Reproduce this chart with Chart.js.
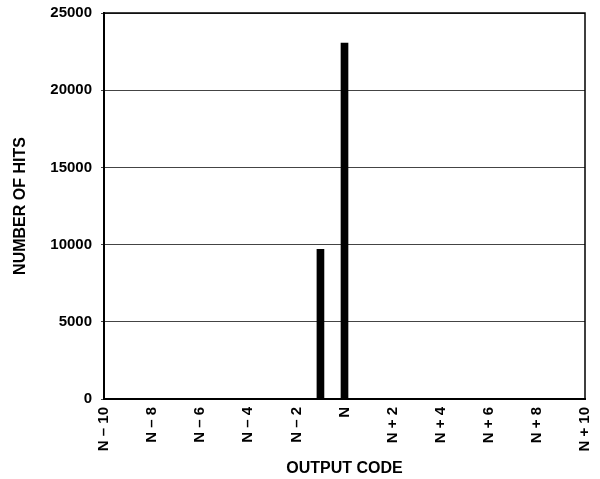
<!DOCTYPE html>
<html><head><meta charset="utf-8">
<script src="https://cdn.jsdelivr.net/npm/chart.js@4/dist/chart.umd.min.js"></script>
<style>html,body{margin:0;padding:0;background:#fff}#wrap{width:600px;height:479px}</style>
</head><body><div id="wrap"><canvas id="c" width="600" height="479"></canvas></div>
<script>
const categories = ['N – 10','N – 9','N – 8','N – 7','N – 6','N – 5','N – 4','N – 3','N – 2','N – 1','N',
  'N + 1','N + 2','N + 3','N + 4','N + 5','N + 6','N + 7','N + 8','N + 9','N + 10'];
const hits = [0,0,0,0,0,0,0,0,0,9700,23050,0,0,0,0,0,0,0,0,0,0];
const yTicks = [0,5000,10000,15000,20000,25000];
const xTitle = 'OUTPUT CODE';
const yTitle = 'NUMBER OF HITS';

const FONT = {family:"'Liberation Sans', Arial, sans-serif", size:15, weight:'bold'};
const TFONT = {family:"'Liberation Sans', Arial, sans-serif", size:16, weight:'bold'};
Chart.defaults.font.family = FONT.family;
Chart.defaults.color = '#000';

const frame = {
  id:'frame',
  afterDraw(chart){
    const {ctx, chartArea:a} = chart;
    ctx.save();
    ctx.strokeStyle = '#000';
    ctx.lineWidth = 1.5;
    ctx.beginPath();
    ctx.moveTo(a.left, a.top);
    ctx.lineTo(a.right, a.top);
    ctx.lineTo(a.right, a.bottom);
    ctx.stroke();
    ctx.restore();
  }
};

new Chart(document.getElementById('c'), {
  type:'bar',
  data:{labels:categories, datasets:[{data:hits, backgroundColor:'#000', borderWidth:0, barThickness:7}]},
  options:{
    responsive:false, animation:false, devicePixelRatio:1,
    layout:{padding:{left:8, top:13, right:15, bottom:1}},
    plugins:{legend:{display:false}, tooltip:{enabled:false}},
    scales:{
      x:{
        offset:false,
        grid:{display:false, drawTicks:false, offset:false},
        border:{display:true, color:'#000', width:2},
        ticks:{autoSkip:false, minRotation:90, maxRotation:90, padding:8, font:FONT,
          callback:(v,i)=> i%2===0 ? categories[i] : ''},
        title:{display:true, text:xTitle, font:TFONT, padding:{top:0,bottom:0}},
        afterFit(s){ s.height = 479 - 399 - 1; s.paddingLeft = 0; s.paddingRight = 0; }
      },
      y:{
        min:0, max:25000,
        afterBuildTicks(s){ s.ticks = yTicks.map(v=>({value:v})); },
        grid:{color:'#444', lineWidth:1, drawTicks:true, tickLength:3, tickColor:'#444'},
        border:{display:true, color:'#000', width:2},
        ticks:{padding:9, font:FONT, callback:v=>String(v)},
        title:{display:true, text:yTitle, font:TFONT, padding:{top:3,bottom:0}},
        afterFit(s){ s.width = 104 - 8; s.paddingTop = 0; s.paddingBottom = 0; }
      }
    }
  },
  plugins:[frame]
});
</script></body></html>
